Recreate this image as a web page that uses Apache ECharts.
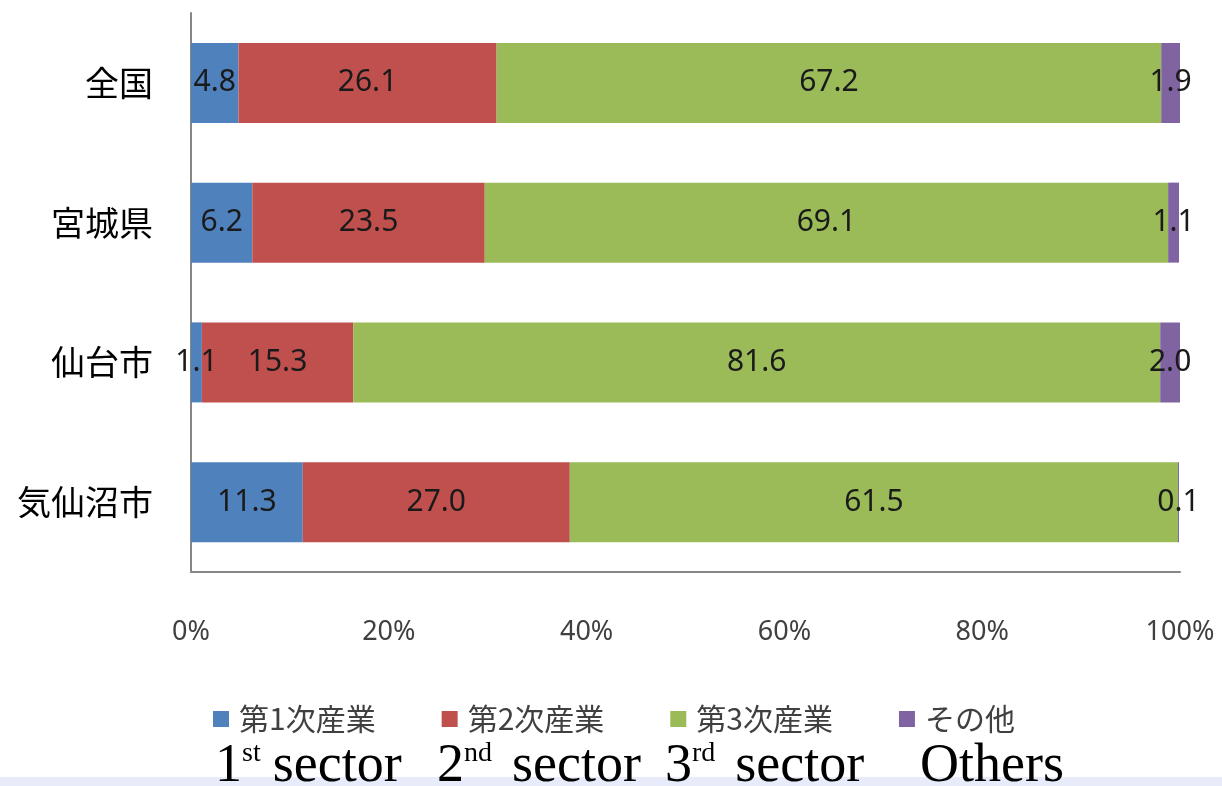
<!DOCTYPE html>
<html>
<head>
<meta charset="utf-8">
<title>産業別就業者構成比</title>
<script src="https://cdn.jsdelivr.net/npm/echarts@6/dist/echarts.min.js"></script>
<style>
  html, body { margin: 0; padding: 0; background: #ffffff; }
  #chart { width: 1222px; height: 786px; }
</style>
</head>
<body>
<div id="chart"></div>
<script>
// Regions (top to bottom)
const regions = ['全国', '宮城県', '仙台市', '気仙沼市'];

// Share of workers by sector (%)
const sector1 = [4.8, 6.2, 1.1, 11.3];
const sector2 = [26.1, 23.5, 15.3, 27.0];
const sector3 = [67.2, 69.1, 81.6, 61.5];
const others  = [1.9, 1.1, 2.0, 0.1];

const seriesNames = ['第1次産業', '第2次産業', '第3次産業', 'その他'];
const seriesColors = ['#4f81bd', '#c0504d', '#9bbb59', '#8064a2'];

// English captions under the legend: [number, superscript, rest]
const captions = [
  ['1', 'st', 'sector'],
  ['2', 'nd', 'sector'],
  ['3', 'rd', 'sector'],
  ['', '', 'Others']
];
const captionLeft = [215, 437, 665, 920];
const captionGap = [12, 20, 20, 0];

const chart = echarts.init(document.getElementById('chart'), null, { renderer: 'canvas' });

const valueSets = [sector1, sector2, sector3, others];
const series = valueSets.map((vals, i) => ({
  name: seriesNames[i],
  type: 'bar',
  stack: 'total',
  barWidth: 80,
  itemStyle: { color: seriesColors[i] },
  label: {
    show: true,
    position: 'inside',
    formatter: p => p.value.toFixed(1),
    color: '#1a1a1a',
    fontFamily: 'Noto Sans',
    fontSize: 30
  },
  emphasis: { disabled: true },
  data: vals
}));

const serif = 'Liberation Serif';
const titles = captions.map((c, i) => {
  const gapKey = 'g' + i;
  const rich = {
    n: { fontFamily: serif, fontSize: 54, fontWeight: 'normal', color: '#000', lineHeight: 54 },
    s: { fontFamily: serif, fontSize: 28, fontWeight: 'normal', color: '#000', verticalAlign: 'top', lineHeight: 34 }
  };
  rich[gapKey] = { fontFamily: serif, fontSize: 54, fontWeight: 'normal', color: '#000', lineHeight: 54, padding: [0, 0, 0, captionGap[i]] };
  return {
    left: captionLeft[i],
    top: 740,
    padding: 0,
    text: (c[0] ? '{n|' + c[0] + '}' : '') + (c[1] ? '{s|' + c[1] + '}' : '') + '{' + gapKey + '|' + c[2] + '}',
    textStyle: { fontWeight: 'normal', rich: rich }
  };
});

chart.setOption({
  animation: false,
  backgroundColor: '#ffffff',
  title: titles,
  graphic: [{
    type: 'rect',
    left: 0,
    top: 777,
    shape: { width: 1222, height: 9 },
    style: { fill: '#e8ecfa' },
    z: 0
  }],
  grid: { left: 191, right: 42, top: 13, bottom: 214, containLabel: false },
  legend: {
    data: seriesNames,
    left: 213,
    top: 704,
    padding: 0,
    icon: 'rect',
    itemWidth: 16,
    itemHeight: 16,
    itemGap: 66,
    textStyle: { fontFamily: 'Noto Sans CJK JP', fontSize: 30, color: '#404040', padding: [0, 0, 0, 5] }
  },
  xAxis: {
    type: 'value',
    min: 0,
    max: 100,
    interval: 20,
    axisLine: { show: true, lineStyle: { color: '#868686', width: 2 } },
    axisTick: { show: false },
    splitLine: { show: false },
    axisLabel: {
      formatter: v => v + '%',
      margin: 47,
      color: '#404040',
      fontFamily: 'Noto Sans',
      fontSize: 27
    }
  },
  yAxis: {
    type: 'category',
    data: regions,
    inverse: true,
    axisLine: { show: true, lineStyle: { color: '#868686', width: 2 } },
    axisTick: { show: false },
    axisLabel: {
      margin: 38,
      color: '#000',
      fontFamily: 'Noto Sans CJK JP',
      fontSize: 34
    }
  },
  series: series
});
</script>
</body>
</html>
